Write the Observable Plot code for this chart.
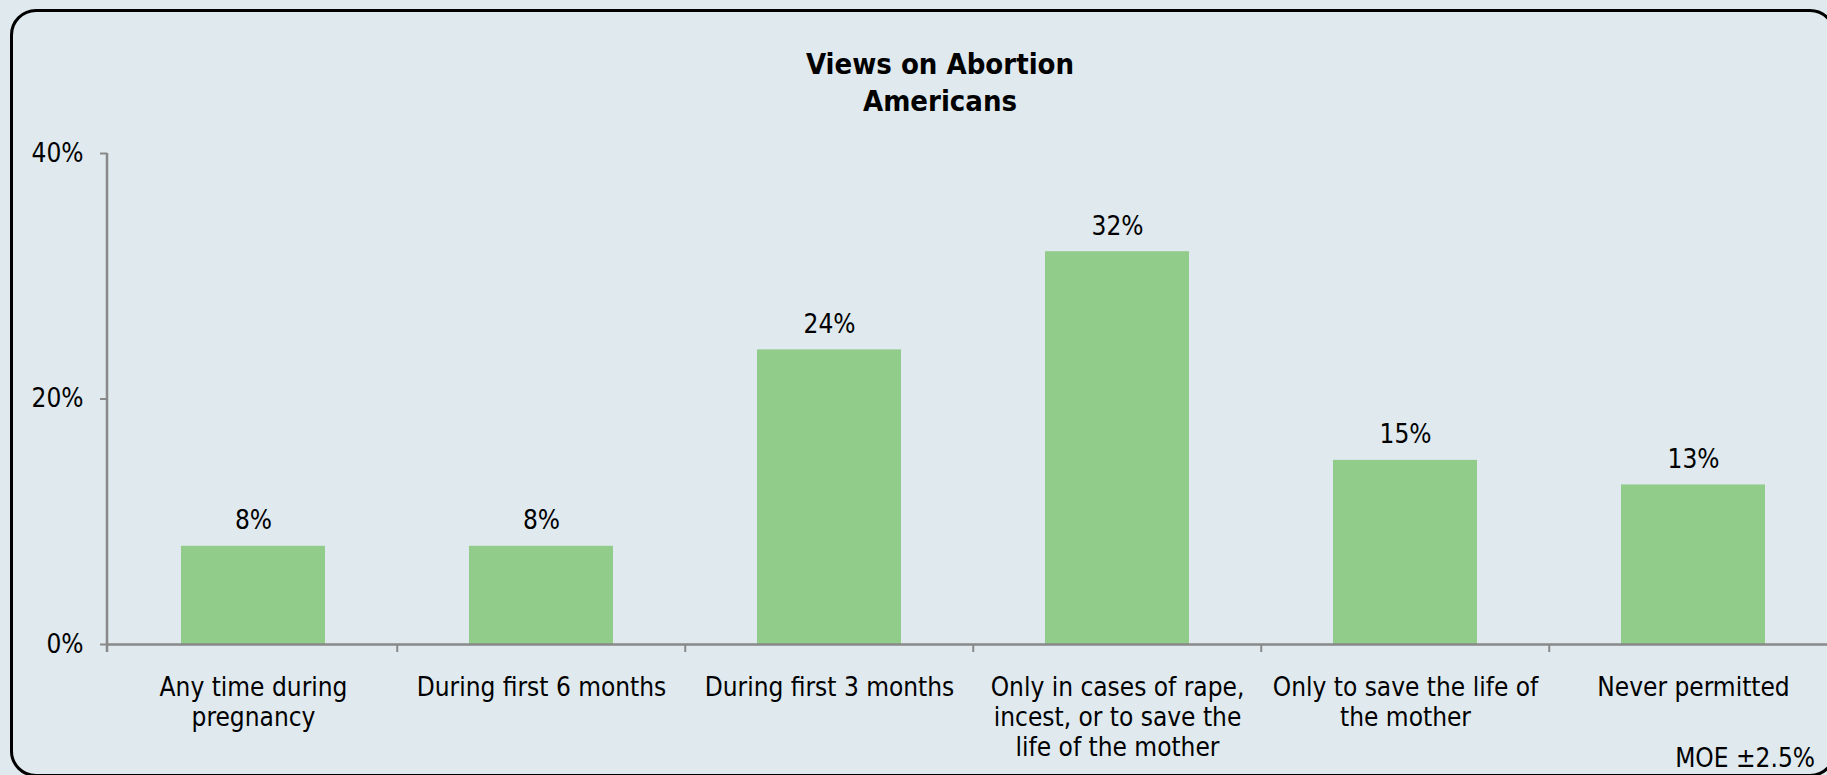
<!DOCTYPE html>
<html>
<head>
<meta charset="utf-8">
<script src="https://cdn.jsdelivr.net/npm/d3@7"></script>
<script src="https://cdn.jsdelivr.net/npm/@observablehq/plot@0.6"></script>
<style>
  html, body { margin: 0; padding: 0; background: #dfe9ee; overflow: hidden; }
  #wrap { position: relative; width: 1827px; height: 775px; overflow: hidden; background: #dfe9ee;
          font-family: "DejaVu Sans Condensed", "DejaVu Sans", sans-serif; color: #000; }
  #border { position: absolute; left: 10px; top: 9px; width: 1826px; height: 768px; box-sizing: border-box;
            border: 3px solid #000; border-radius: 26px; }
  #title { position: absolute; left: 0; top: 46px; width: 1880px; text-align: center;
           font-weight: bold; font-size: 29px; line-height: 37px; }
  #chart { position: absolute; left: 0; top: 120px; width: 1880px; height: 655px; }
  #chart svg { max-width: none !important; }
  #moe { position: absolute; right: 12px; top: 743px; font-size: 26px; line-height: 30px; }
</style>
</head>
<body>
<div id="wrap">
  <div id="border"></div>
  <div id="title">Views on Abortion<br>Americans</div>
  <div id="chart"></div>
  <div id="moe">MOE ±2.5%</div>
</div>
<script>
const categories = [
  "Any time during pregnancy",
  "During first 6 months",
  "During first 3 months",
  "Only in cases of rape, incest, or to save the life of the mother",
  "Only to save the life of the mother",
  "Never permitted"
];
const tickLabels = [
  "Any time during\npregnancy",
  "During first 6 months",
  "During first 3 months",
  "Only in cases of rape,\nincest, or to save the\nlife of the mother",
  "Only to save the life of\nthe mother",
  "Never permitted"
];
const values = [8, 8, 24, 32, 15, 13];
const yTicks = [0, 20, 40];

const data = categories.map((c, i) => ({cat: c, value: values[i]}));
const axisColor = "#898989";

const plot = Plot.plot({
  width: 1880,
  height: 655,
  marginTop: 33,
  marginBottom: 131,
  marginLeft: 107,
  marginRight: 42,
  style: {background: "transparent", fontFamily: "'DejaVu Sans Condensed', 'DejaVu Sans', sans-serif", fontSize: "26px", color: "#000", overflow: "visible", maxWidth: "none"},
  x: {domain: categories, paddingInner: 0.5, paddingOuter: 0.25, axis: null},
  y: {domain: [0, 40], axis: null},
  marks: [
    Plot.barY(data, {x: "cat", y: "value", fill: "#92cc8a"}),
    Plot.text(data, {x: "cat", y: "value", text: d => d.value + "%", dy: -17, lineAnchor: "bottom", fontSize: 26, fill: "#000"}),
    Plot.axisX({tickSize: 0, tickPadding: 30, lineHeight: 1.15, fontSize: 26, fill: "#000", label: null,
                tickFormat: d => tickLabels[categories.indexOf(d)]}),
    Plot.axisY({ticks: yTicks, tickSize: 7, tickPadding: 17, fontSize: 26, fill: "#000", label: null,
                stroke: axisColor, strokeWidth: 2, tickFormat: d => d + "%"}),
    Plot.ruleY([0], {stroke: axisColor, strokeWidth: 2.5})
  ]
});

// Y axis line and category boundary ticks, derived from the plot's own scales
const xs = plot.scale("x");
const ys = plot.scale("y");
const svg = d3.select(plot);
const x0 = xs.range[0], x1 = xs.range[1];
const step = (x1 - x0) / categories.length;
const yBase = ys.apply(0), yTop = ys.apply(40);
svg.append("line")
  .attr("x1", x0).attr("x2", x0).attr("y1", yTop).attr("y2", yBase + 8)
  .attr("stroke", axisColor).attr("stroke-width", 2.5);
categories.forEach((c, i) => {
  const bx = xs.apply(c) + xs.bandwidth / 2 + step / 2;
  svg.append("line")
    .attr("x1", bx).attr("x2", bx).attr("y1", yBase).attr("y2", yBase + 8)
    .attr("stroke", axisColor).attr("stroke-width", 2);
});

document.getElementById("chart").appendChild(plot);
</script>
</body>
</html>
